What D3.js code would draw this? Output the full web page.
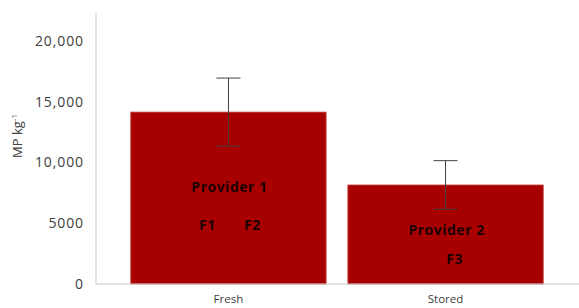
<!DOCTYPE html>
<html>
<head>
<meta charset="utf-8">
<script src="https://cdn.jsdelivr.net/npm/d3@7"></script>
<style>
  body { margin: 0; background: #fff; }
  text { font-family: "Open Sans", "Noto Sans", sans-serif; }
</style>
</head>
<body>
<div id="chart"></div>
<script>
const width = 579;
const height = 308;

// data
const categories = ["Fresh", "Stored"];
const values = [14150, 8150];
const errors = [2800, 2000];
const yTicks = [0, 5000, 10000, 15000, 20000];
const insideLabels = [
    { cat: "Fresh", text: "Provider 1", dx: 1, value: 8000 },
    { cat: "Fresh", text: "F1", dx: -21, value: 4850 },
    { cat: "Fresh", text: "F2", dx: 24, value: 4850 },
    { cat: "Stored", text: "Provider 2", dx: 1, value: 4400 },
    { cat: "Stored", text: "F3", dx: 9, value: 2050 }
];

const data = categories.map((c, i) => ({ cat: c, value: values[i], err: errors[i] }));

const svg = d3.select("#chart")
    .append("svg")
    .attr("width", width)
    .attr("height", height);

const x = d3.scaleBand()
    .domain(categories)
    .range([96, 578])
    .paddingInner(0.1)
    .paddingOuter(0.16);

const y = d3.scaleLinear()
    .domain([0, 20000])
    .range([284, 41]);

// axis lines
svg.append("line")
    .attr("x1", 96).attr("x2", 96)
    .attr("y1", 13).attr("y2", y(0))
    .attr("stroke", "#c8c8c8").attr("stroke-width", 1);

// y tick labels
svg.append("g")
    .selectAll("text")
    .data(yTicks)
    .enter()
    .append("text")
    .attr("x", 84)
    .attr("y", d => y(d))
    .attr("dy", "0.35em")
    .attr("text-anchor", "end")
    .attr("font-size", 14)
    .attr("letter-spacing", 0.9)
    .attr("fill", "#404040")
    .text(d => d === 5000 ? "5000" : d3.format(",")(d));

// y title
const yTitle = svg.append("text")
    .attr("transform", "translate(22,136) rotate(-90)")
    .attr("text-anchor", "middle")
    .attr("font-size", 13)
    .attr("fill", "#404040");
yTitle.append("tspan").text("MP kg");
yTitle.append("tspan").attr("dy", -5).attr("font-size", 8).text("-1");

// bars
svg.selectAll("rect.bar")
    .data(data)
    .enter()
    .append("rect")
    .attr("class", "bar")
    .attr("x", d => x(d.cat))
    .attr("y", d => y(d.value))
    .attr("width", x.bandwidth())
    .attr("height", d => y(0) - y(d.value))
    .attr("fill", "#a80000")
    .attr("stroke", "#c94a4a")
    .attr("stroke-width", 0.8);

// x axis line
svg.append("line")
    .attr("x1", 96).attr("x2", width)
    .attr("y1", y(0)).attr("y2", y(0))
    .attr("stroke", "#c8c8c8").attr("stroke-width", 1);

// error bars
const eb = svg.append("g")
    .attr("stroke", "#404040")
    .attr("stroke-width", 1);

data.forEach(d => {
    const cx = x(d.cat) + x.bandwidth() / 2;
    eb.append("line")
        .attr("x1", cx).attr("x2", cx)
        .attr("y1", y(d.value + d.err)).attr("y2", y(d.value - d.err));
    [d.value + d.err, d.value - d.err].forEach(v => {
        eb.append("line")
            .attr("x1", cx - 12).attr("x2", cx + 12)
            .attr("y1", y(v)).attr("y2", y(v));
    });
});

// labels inside bars
svg.append("g")
    .selectAll("text")
    .data(insideLabels)
    .enter()
    .append("text")
    .attr("x", d => x(d.cat) + x.bandwidth() / 2 + d.dx)
    .attr("y", d => y(d.value))
    .attr("dy", "0.35em")
    .attr("text-anchor", "middle")
    .attr("font-size", 14)
    .attr("letter-spacing", 0.5)
    .attr("font-weight", "bold")
    .attr("fill", "#1a0000")
    .text(d => d.text);

// category labels
svg.append("g")
    .selectAll("text")
    .data(categories)
    .enter()
    .append("text")
    .attr("x", d => x(d) + x.bandwidth() / 2)
    .attr("y", 299)
    .attr("dy", "0.35em")
    .attr("text-anchor", "middle")
    .attr("font-size", 11.5)
    .attr("fill", "#404040")
    .text(d => d);
</script>
</body>
</html>
